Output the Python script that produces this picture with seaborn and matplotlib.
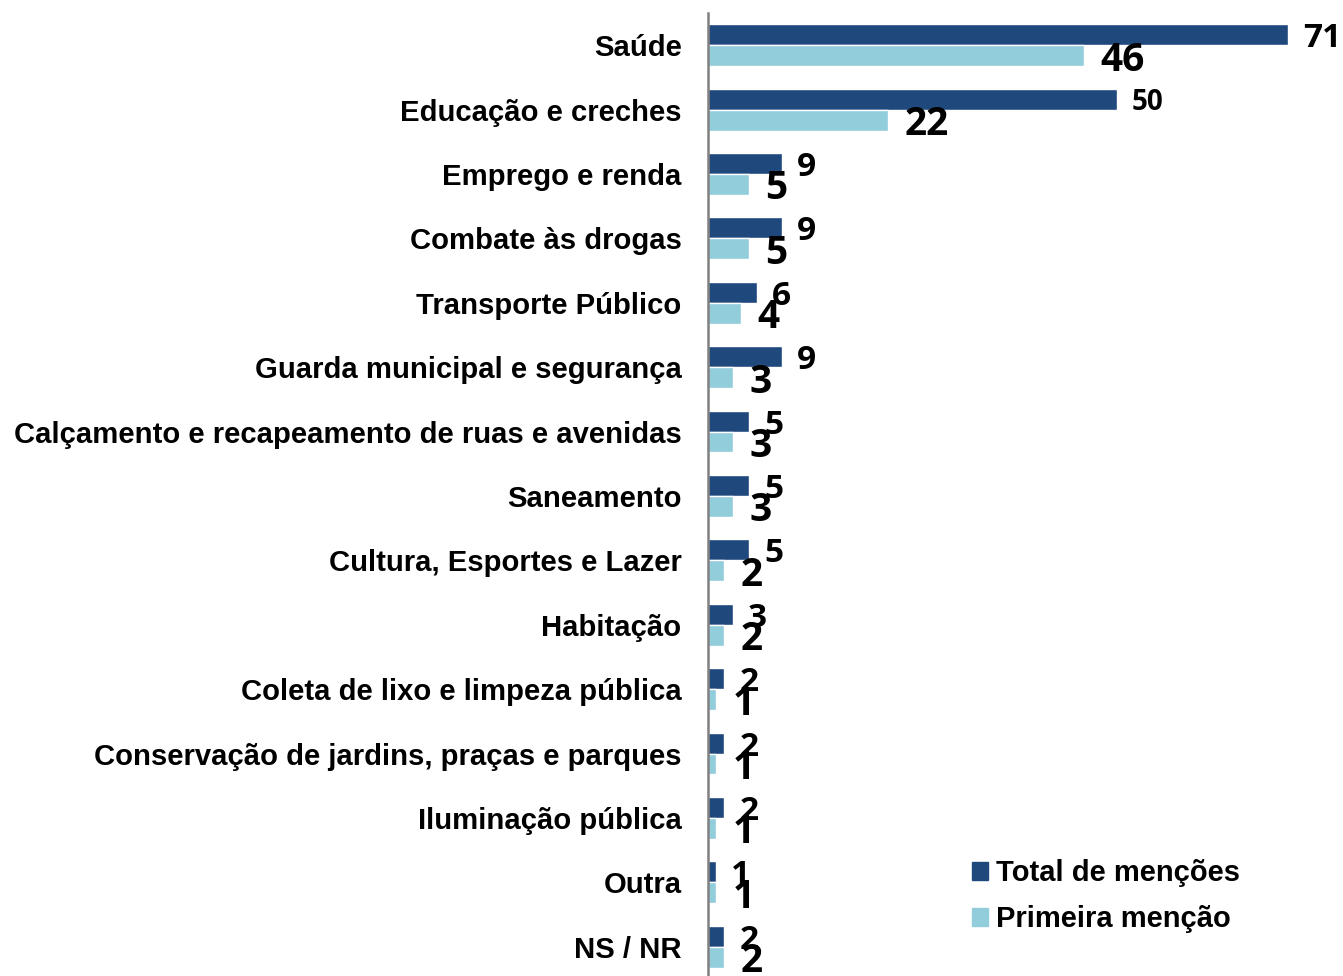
import pandas as pd
import matplotlib.pyplot as plt
import seaborn as sns
from matplotlib.patches import Patch

# Categorias e valores (%)
categorias = ['Saúde', 'Educação e creches', 'Emprego e renda', 'Combate às drogas',
              'Transporte Público', 'Guarda municipal e segurança',
              'Calçamento e recapeamento de ruas e avenidas', 'Saneamento',
              'Cultura, Esportes e Lazer', 'Habitação',
              'Coleta de lixo e limpeza pública',
              'Conservação de jardins, praças e parques', 'Iluminação pública',
              'Outra', 'NS / NR']
total = [71, 50, 9, 9, 6, 9, 5, 5, 5, 3, 2, 2, 2, 1, 2]
primeira = [46, 22, 5, 5, 4, 3, 3, 3, 2, 2, 1, 1, 1, 1, 2]
series = ['Total de menções', 'Primeira menção']
cores = ['#1F497D', '#92CDDC']

df = pd.DataFrame({
    'categoria': categorias * 2,
    'valor': total + primeira,
    'serie': [series[0]] * len(total) + [series[1]] * len(primeira),
})

sns.set_style('white')
plt.rcParams['font.family'] = ['Liberation Sans', 'DejaVu Sans']
plt.rcParams['text.color'] = 'black'
plt.rcParams['ytick.color'] = 'black'
plt.rcParams['ytick.labelcolor'] = 'black'

fig = plt.figure(figsize=(13.43, 9.76), dpi=100)
ax = fig.add_axes([708 / 1343, -0.003, 1 - 708 / 1343, 0.9897])

sns.barplot(data=df, y='categoria', x='valor', hue='serie', orient='h',
            palette=cores, width=0.65, gap=0, ax=ax, legend=False,
            order=categorias, hue_order=series, saturation=1)

ax.set_xlim(0, 77.7)
ax.set_ylim(len(categorias) - 0.5, -0.5)
ax.set_xlabel('')
ax.set_ylabel('')
ax.set_xticks([])

# rótulos das categorias
ax.set_yticks(range(len(categorias)))
ax.set_yticklabels(categorias, fontsize=21.1, fontweight='bold', color='black')
ax.tick_params(axis='y', which='major', length=0, pad=19)
ax.set_yticks([i - 0.5 for i in range(len(categorias) + 1)], minor=True)
ax.tick_params(axis='y', which='minor', length=6, width=1.2, color='black')

for s in ['top', 'right', 'bottom']:
    ax.spines[s].set_visible(False)
ax.spines['left'].set_color('#808080')
ax.spines['left'].set_linewidth(1.8)

# rótulos de valores
num_font = ['Open Sans', 'DejaVu Sans']
lbl_tot = ax.bar_label(ax.containers[0], padding=11, fontsize=24,
                       fontweight='bold', family=num_font, color='black')
for t, v in zip(lbl_tot, total):
    t.set_va('center_baseline')
    if v == 50:
        t.set_fontsize(20)
lbl_pri = ax.bar_label(ax.containers[1], padding=12, fontsize=28,
                       fontweight='bold', family=num_font, color='black')
for t in lbl_pri:
    t.set_va('center_baseline')

handles = [Patch(color=c) for c in cores]
fig.legend(handles, series, loc='upper left',
           bbox_to_anchor=(946 / 1343, 1 - 833 / 976), frameon=False,
           prop={'size': 21, 'weight': 'bold'}, handlelength=0.55,
           handleheight=0.55, handletextpad=0.25, labelspacing=0.62)

fig.savefig('out.png', dpi=100)
